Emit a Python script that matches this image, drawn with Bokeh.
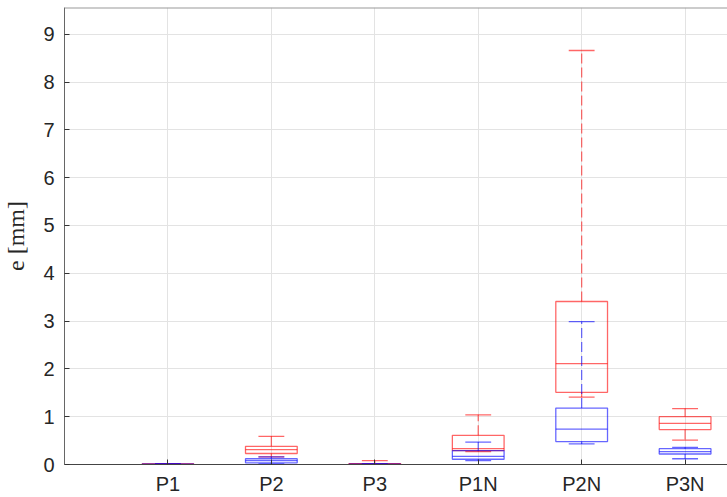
from bokeh.plotting import figure
from bokeh.models import Range1d, FixedTicker, ColumnDataSource, Span
from bokeh.embed import file_html
from bokeh.resources import INLINE

categories = ["P1", "P2", "P3", "P1N", "P2N", "P3N"]
positions = [1, 2, 3, 4, 5, 6]

# red series (lower whisker, q1, median, q3, upper whisker)
red_lo = [0.00, 0.16, 0.00, 0.27, 1.41, 0.51]
red_q1 = [0.00, 0.23, 0.00, 0.29, 1.51, 0.73]
red_med = [0.005, 0.31, 0.01, 0.33, 2.11, 0.86]
red_q3 = [0.01, 0.38, 0.02, 0.61, 3.41, 1.00]
red_hi = [0.02, 0.59, 0.08, 1.04, 8.66, 1.17]

# blue series
blue_lo = [0.00, 0.01, 0.00, 0.08, 0.43, 0.12]
blue_q1 = [0.00, 0.035, 0.00, 0.11, 0.48, 0.22]
blue_med = [0.00, 0.08, 0.00, 0.17, 0.74, 0.27]
blue_q3 = [0.005, 0.12, 0.005, 0.29, 1.18, 0.33]
blue_hi = [0.01, 0.16, 0.01, 0.47, 2.99, 0.36]

y_ticks = [0, 1, 2, 3, 4, 5, 6, 7, 8, 9]
Y_MAX = 9.56
X_MAX = 6.41

BOX_HALF = 0.25
CAP_HALF = 0.125

p = figure(width=727, height=497, x_range=Range1d(0, X_MAX), y_range=Range1d(0, Y_MAX),
           output_backend="svg", toolbar_location=None,
           min_border_left=64, min_border_right=0, min_border_top=7, min_border_bottom=32)
p.outline_line_color = None
p.background_fill_color = "white"
p.border_fill_color = "white"

font = "Liberation Sans"
txt = "#262626"

xa = p.xaxis[0]
xa.axis_label = None
xa.ticker = FixedTicker(ticks=positions)
xa.major_label_overrides = {pos: c for pos, c in zip(positions, categories)}
xa.major_label_text_font = font
xa.major_label_text_font_size = "20px"
xa.major_label_text_color = txt
xa.major_label_standoff = 8
xa.major_tick_in = 5
xa.major_tick_out = 0
xa.minor_tick_line_color = None
xa.axis_line_color = "#444444"
xa.major_tick_line_color = "#333333"

ya = p.yaxis[0]
ya.ticker = FixedTicker(ticks=y_ticks)
ya.major_label_text_font = font
ya.major_label_text_font_size = "20px"
ya.major_label_text_color = txt
ya.major_label_standoff = 10
ya.major_tick_in = 5
ya.major_tick_out = 0
ya.minor_tick_line_color = None
ya.axis_line_color = "#666666"
ya.major_tick_line_color = "#333333"
ya.axis_label = "e [mm]"
ya.axis_label_text_font = "Liberation Serif"
ya.axis_label_text_font_style = "normal"
ya.axis_label_text_font_size = "24px"
ya.axis_label_text_color = txt
ya.axis_label_standoff = 11

p.add_layout(Span(location=Y_MAX, dimension="width", line_color="#9a9a9a", line_width=2))

p.xgrid.ticker = FixedTicker(ticks=positions)
p.ygrid.ticker = FixedTicker(ticks=y_ticks)
p.xgrid.grid_line_color = "#e3e3e3"
p.ygrid.grid_line_color = "#e3e3e3"


def draw(lo, q1, med, q3, hi, color):
    src = ColumnDataSource(dict(
        x=positions,
        left=[x - BOX_HALF for x in positions],
        right=[x + BOX_HALF for x in positions],
        cl=[x - CAP_HALF for x in positions],
        cr=[x + CAP_HALF for x in positions],
        lo=lo, q1=q1, med=med, q3=q3, hi=hi))
    # whiskers (dashed)
    p.segment(x0="x", y0="q3", x1="x", y1="hi", source=src, line_color=color,
              line_alpha=0.55, line_width=1.3, line_dash="10 4")
    p.segment(x0="x", y0="q1", x1="x", y1="lo", source=src, line_color=color,
              line_alpha=0.55, line_width=1.3, line_dash="10 4")
    # caps
    p.segment(x0="cl", y0="hi", x1="cr", y1="hi", source=src, line_color=color,
              line_alpha=0.6, line_width=1.3)
    p.segment(x0="cl", y0="lo", x1="cr", y1="lo", source=src, line_color=color,
              line_alpha=0.6, line_width=1.3)
    # box
    p.quad(left="left", right="right", bottom="q1", top="q3", source=src,
           fill_color=None, line_color=color, line_alpha=0.6, line_width=1.3)
    # median
    p.segment(x0="left", y0="med", x1="right", y1="med", source=src,
              line_color=color, line_alpha=0.6, line_width=1.3)


draw(red_lo, red_q1, red_med, red_q3, red_hi, "#ff0000")
draw(blue_lo, blue_q1, blue_med, blue_q3, blue_hi, "#0000ff")

open("out.html", "w").write(file_html(p, INLINE))
